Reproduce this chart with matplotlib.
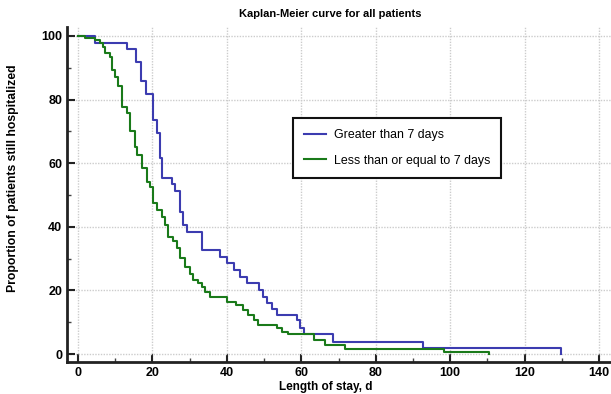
import matplotlib
matplotlib.use("Agg")
import matplotlib.pyplot as plt
from matplotlib.ticker import MultipleLocator

# Kaplan-Meier step data (time in days, survival in %)
blue_t = [0, 4.6, 13.1, 15.5, 17.0, 18.3, 20.2, 21.2, 22.0, 22.6, 25.2, 26.1, 27.4, 28.3, 29.2,
          33.2, 38.2, 40.0, 41.8, 43.5, 45.3, 48.5, 49.8, 50.7, 52.1, 53.4, 58.8, 59.7, 60.6,
          68.6, 92.8, 129.8]
blue_s = [100, 97.9, 95.8, 91.9, 85.8, 81.8, 73.6, 69.4, 61.5, 55.2, 53.4, 51.1, 44.8, 40.6, 38.5,
          32.7, 30.6, 28.5, 26.4, 24.3, 22.2, 20.1, 18.0, 15.9, 14.3, 12.3, 10.7, 8.1, 6.3,
          3.9, 1.8, 0.0]

green_t = [0, 1.9, 4.6, 5.9, 6.6, 7.3, 8.6, 9.1, 9.9, 10.8, 11.7, 13.1, 14.0, 15.3, 15.9, 17.1,
           18.5, 19.4, 20.2, 21.1, 22.5, 23.4, 24.3, 25.6, 26.5, 27.4, 28.8, 30.1, 31.0, 32.3,
           33.2, 34.1, 35.5, 40.0, 42.4, 44.4, 45.8, 47.2, 48.3, 53.4, 54.8, 56.5, 63.3, 66.4,
           71.8, 98.2, 110.3]
green_s = [100, 99.2, 98.7, 97.7, 96.6, 94.5, 93.5, 89.3, 87.2, 84.1, 77.8, 75.7, 70.0, 65.2, 62.6,
           58.4, 54.2, 52.6, 47.4, 45.3, 43.2, 40.6, 36.9, 35.4, 33.2, 30.1, 27.4, 25.3, 23.3, 22.2,
           21.2, 19.6, 17.8, 16.4, 15.4, 14.0, 12.3, 10.7, 9.1, 8.1, 7.0, 6.3, 4.4, 2.8,
           1.7, 0.7, 0.0]

labels = ["Greater than 7 days", "Less than or equal to 7 days"]
colors = ["#3c3cb0", "#1a7a1a"]
title = "Kaplan-Meier curve for all patients"
xlabel = "Length of stay, d"
ylabel = "Proportion of patients still hospitalized"

plt.rcParams['font.family'] = ['Liberation Sans', 'DejaVu Sans']

W, H = 611, 394
fig = plt.figure(figsize=(W / 100, H / 100), dpi=100)
ax = fig.add_axes([67 / W, (H - 362) / H, (W - 67) / W, (362 - 27) / H])

ax.step(blue_t, blue_s, where='post', color=colors[0], lw=1.5, label=labels[0], zorder=3)
ax.step(green_t, green_s, where='post', color=colors[1], lw=1.5, label=labels[1], zorder=3)

ax.set_xlim(-2.96, (W - 78) / 3.722)
ax.set_ylim(-2.5, 102.8)

ax.xaxis.set_major_locator(MultipleLocator(20))
ax.xaxis.set_minor_locator(MultipleLocator(10))
ax.yaxis.set_major_locator(MultipleLocator(20))
ax.yaxis.set_minor_locator(MultipleLocator(10))

ax.grid(True, which='major', color='#cccccc', linestyle=(0, (1, 1)), linewidth=1.0, zorder=0)

for s in ['top', 'right']:
    ax.spines[s].set_visible(False)
for s in ['left', 'bottom']:
    ax.spines[s].set_linewidth(2.0)
    ax.spines[s].set_color('#222222')

ax.tick_params(which='major', direction='in', length=6, width=1.5, color='#222222',
               labelsize=9, pad=3.5)
ax.tick_params(which='minor', direction='in', length=3, width=1.0, color='#444444')
for lab in ax.get_xticklabels() + ax.get_yticklabels():
    lab.set_fontweight('bold')

ax.set_title(title, fontsize=8, fontweight='bold', pad=7, x=(330 - 67) / (W - 67))
ax.set_xlabel(xlabel, fontsize=8.5, fontweight='bold')
ax.xaxis.set_label_coords((326 - 67) / (W - 67), -0.058)
ax.set_ylabel(ylabel, fontsize=8.8, fontweight='bold')
ax.yaxis.set_label_coords(-0.088, (362 - 178) / 335)

leg = ax.legend(loc='upper left', bbox_to_anchor=((293 - 67) / (W - 67), (362 - 118) / 335),
                borderaxespad=0, frameon=True, fancybox=False, framealpha=1,
                edgecolor='#111111', handlelength=1.8, handletextpad=0.6, labelspacing=1.1,
                borderpad=0.9, prop={'size': 8.9})
leg.get_frame().set_linewidth(1.5)

fig.savefig("out.png", dpi=100)
